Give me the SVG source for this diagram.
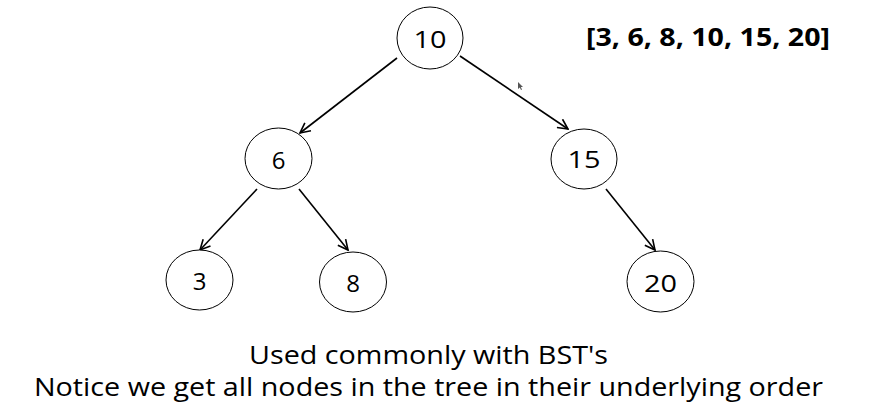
<svg xmlns="http://www.w3.org/2000/svg" width="880" height="417" viewBox="0 0 880 417">
<style>
.node ellipse{fill:#fff;stroke:#000;stroke-width:1}
.node text{font-family:"Open Sans","Noto Sans",sans-serif;font-size:24px;fill:#000;text-anchor:middle}
.edge{stroke:#000;stroke-width:1.6;fill:none;marker-end:url(#ah)}
.cap{font-family:"Open Sans","Noto Sans",sans-serif;font-size:25px;fill:#000}
</style>
<defs>
<marker id="ah" viewBox="0 0 12 12" refX="11" refY="6" markerWidth="12" markerHeight="12" markerUnits="userSpaceOnUse" orient="auto">
<path d="M1,1 L11,6 L1,11" fill="none" stroke="#000" stroke-width="1.6"/>
</marker>
</defs>
<rect width="880" height="417" fill="#fff"/>
<g id="connectors">
<line class="edge" x1="397" y1="58" x2="300" y2="133"/>
<line class="edge" x1="460" y1="56" x2="568" y2="129"/>
<line class="edge" x1="257" y1="189" x2="200" y2="250"/>
<line class="edge" x1="299" y1="189" x2="348" y2="250"/>
<line class="edge" x1="606" y1="189" x2="655" y2="250"/>
</g>
<g id="n10" class="node"><ellipse cx="430" cy="38" rx="33" ry="31"/><text x="430" y="48" textLength="33" lengthAdjust="spacingAndGlyphs">10</text></g>
<g id="n6" class="node"><ellipse cx="278.5" cy="158.5" rx="33.5" ry="30.5"/><text x="278.5" y="169">6</text></g>
<g id="n15" class="node"><ellipse cx="584" cy="159" rx="33" ry="30"/><text x="584" y="168" textLength="33" lengthAdjust="spacingAndGlyphs">15</text></g>
<g id="n3" class="node"><ellipse cx="199.5" cy="280" rx="33.5" ry="30"/><text x="199.5" y="290">3</text></g>
<g id="n8" class="node"><ellipse cx="353" cy="282" rx="33.5" ry="30"/><text x="353" y="292">8</text></g>
<g id="n20" class="node"><ellipse cx="660.5" cy="281.5" rx="33.5" ry="30.5"/><text x="660.5" y="292" textLength="33" lengthAdjust="spacingAndGlyphs">20</text></g>
<text x="586" y="46" font-family="'Open Sans','Noto Sans',sans-serif" font-size="25" font-weight="bold" textLength="244" lengthAdjust="spacingAndGlyphs">[3, 6, 8, 10, 15, 20]</text>
<polygon points="518,82 518,89 519.8,87.5 521,90 522,89.5 520.8,87 523,87" fill="#555"/>
<text class="cap" x="249" y="364" textLength="359" lengthAdjust="spacingAndGlyphs">Used commonly with BST's</text>
<text class="cap" x="34" y="396" textLength="789" lengthAdjust="spacingAndGlyphs">Notice we get all nodes in the tree in their underlying order</text>
</svg>
